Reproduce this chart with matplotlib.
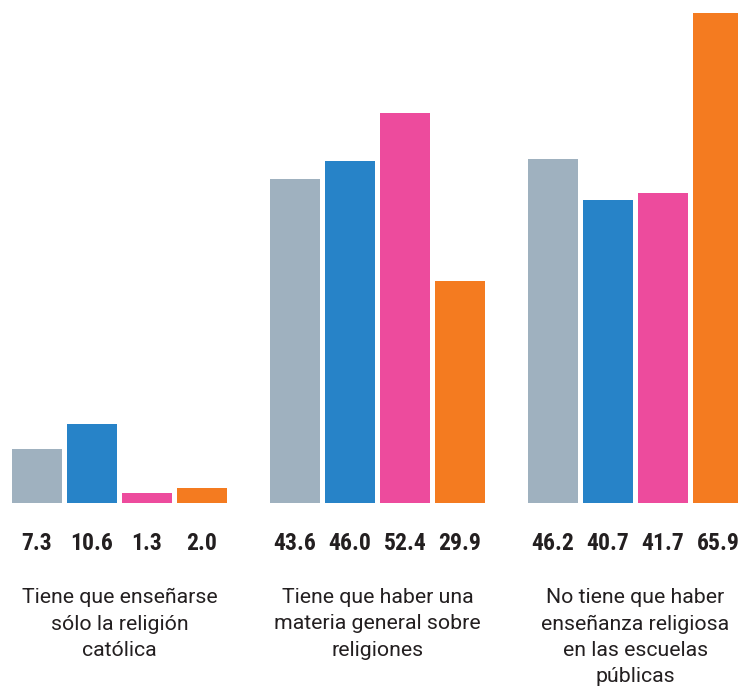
import numpy as np
import matplotlib.pyplot as plt
from matplotlib import font_manager

# Datos
grupos = ['Tiene que enseñarse\nsólo la religión\ncatólica',
          'Tiene que haber una\nmateria general sobre\nreligiones',
          'No tiene que haber\nenseñanza religiosa\nen las escuelas\npúblicas']
serie_1 = [7.3, 43.6, 46.2]
serie_2 = [10.6, 46.0, 40.7]
serie_3 = [1.3, 52.4, 41.7]
serie_4 = [2.0, 29.9, 65.9]
colores = ['#9fb1bf', '#2783c8', '#ed4b9d', '#f47b20']

W, H = 738, 688
base_y = 503          # línea base en píxeles
escala = 490 / 65.9   # píxeles por unidad

fig = plt.figure(figsize=(W / 100, H / 100), dpi=100)
ax = fig.add_axes([0, 0, 1, 1])
ax.set_xlim(0, W)
ax.set_ylim(-(H - base_y) / escala, base_y / escala)
ax.axis('off')

# Fuente condensada para los valores si está disponible
nombres = {f.name for f in font_manager.fontManager.ttflist}
fuente_num = 'Roboto Condensed' if 'Roboto Condensed' in nombres else 'Roboto'
tam_num = 17 if fuente_num == 'Roboto Condensed' else 15

centros = 119.5 + 258 * np.arange(len(grupos))
ancho, paso = 50, 55
series = [serie_1, serie_2, serie_3, serie_4]

for j, (vals, col) in enumerate(zip(series, colores)):
    xs = centros + (j - 1.5) * paso
    ax.bar(xs, vals, width=ancho, color=col, align='center')
    for x, v in zip(xs, vals):
        ax.text(x, -(544 - base_y) / escala, f'{v:.1f}', ha='center', va='center',
                fontsize=tam_num, fontweight='bold', family=fuente_num, color='#231f20')

for c, g in zip(centros, grupos):
    ax.text(c, -(588 - base_y) / escala, g, ha='center', va='top', fontsize=15.3,
            family='Roboto', color='#231f20', linespacing=1.49)

fig.savefig('out.png', dpi=100)
